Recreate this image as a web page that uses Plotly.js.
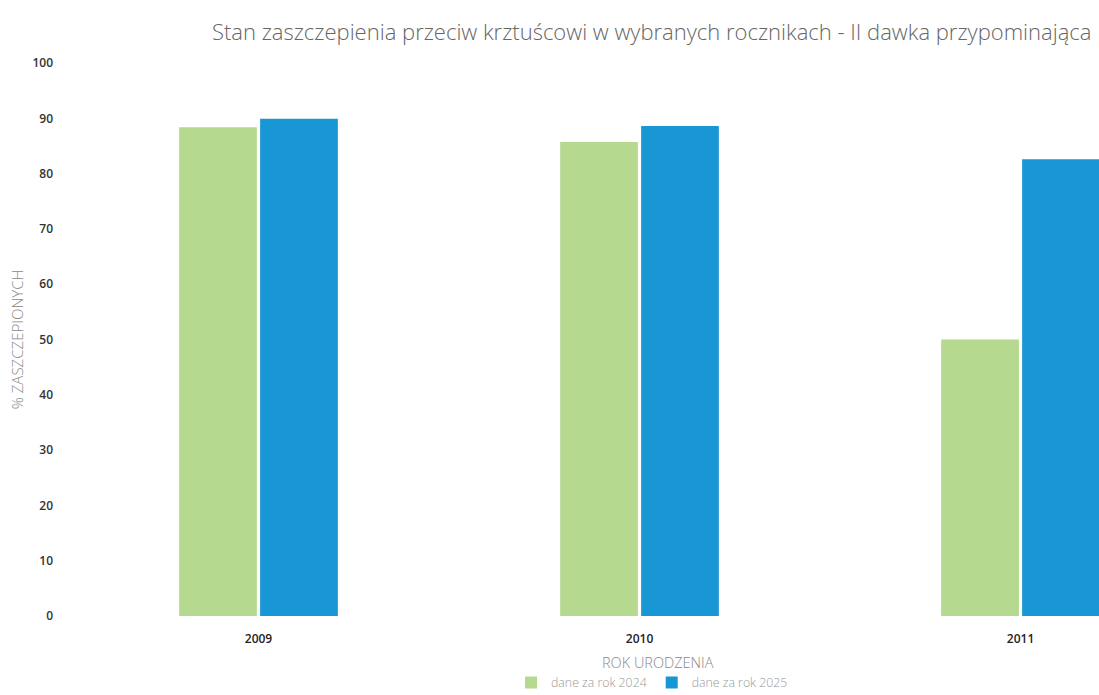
<!DOCTYPE html>
<html>
<head>
<meta charset="utf-8">
<script src="https://cdn.plot.ly/plotly-3.0.1.min.js"></script>
<style>html,body{margin:0;padding:0;background:#fff;}#chart{width:1099px;height:695px;}</style>
</head>
<body>
<div id="chart"></div>
<script>
const categories = ['2009', '2010', '2011'];
const values2024 = [88.4, 85.7, 50.0];
const values2025 = [89.9, 88.6, 82.6];
const seriesNames = ['dane za rok 2024', 'dane za rok 2025'];
const yTicks = [0, 10, 20, 30, 40, 50, 60, 70, 80, 90, 100];

const traces = [
  {type: 'bar', x: categories, y: values2024, name: seriesNames[0],
   marker: {color: '#b5da8f'}},
  {type: 'bar', x: categories, y: values2025, name: seriesNames[1],
   marker: {color: '#1996d4'}}
];

const layout = {
  width: 1099, height: 695,
  paper_bgcolor: '#ffffff', plot_bgcolor: '#ffffff',
  margin: {l: 68, r: 0, t: 63, b: 79},
  barmode: 'group', bargap: 0.575, bargroupgap: 0.04,
  showlegend: true,
  title: {text: 'Stan zaszczepienia przeciw krztuścowi w wybranych rocznikach - II dawka przypominająca',
          font: {family: 'Open Sans, sans-serif', size: 22, color: '#666666', weight: 300},
          x: 0.593, xanchor: 'center', y: 0.953, yanchor: 'middle'},
  xaxis: {type: 'category', range: [-0.5, 2.206], showline: false, showgrid: false, zeroline: false,
          ticks: '', ticklabelstandoff: 14, automargin: false,
          tickfont: {family: 'Open Sans, sans-serif', size: 12, color: '#222', weight: 600}},
  yaxis: {range: [0, 100], tickvals: yTicks, showgrid: false, zeroline: false, showline: false,
          ticks: '', ticklabelstandoff: 14, automargin: false,
          tickfont: {family: 'Open Sans, sans-serif', size: 12, color: '#333', weight: 600},
          title: {text: '% ZASZCZEPIONYCH', standoff: 5,
                  font: {family: 'Open Sans, sans-serif', size: 15, color: '#888', weight: 300}}},
  legend: {orientation: 'h', xref: 'container', yref: 'container',
           x: 0.465, xanchor: 'left', y: 0.018, yanchor: 'middle',
           font: {family: 'Open Sans, sans-serif', size: 12.3, color: '#999', weight: 300}, itemwidth: 30,
           tracegroupgap: 0},
  annotations: [
    {text: 'ROK URODZENIA', xref: 'paper', yref: 'paper', x: 0.572, y: -0.084,
     xanchor: 'center', yanchor: 'middle', showarrow: false,
     font: {family: 'Open Sans, sans-serif', size: 14.5, color: '#888', weight: 300}}
  ]
};

Plotly.newPlot('chart', traces, layout, {displayModeBar: false, staticPlot: true});
</script>
</body>
</html>
